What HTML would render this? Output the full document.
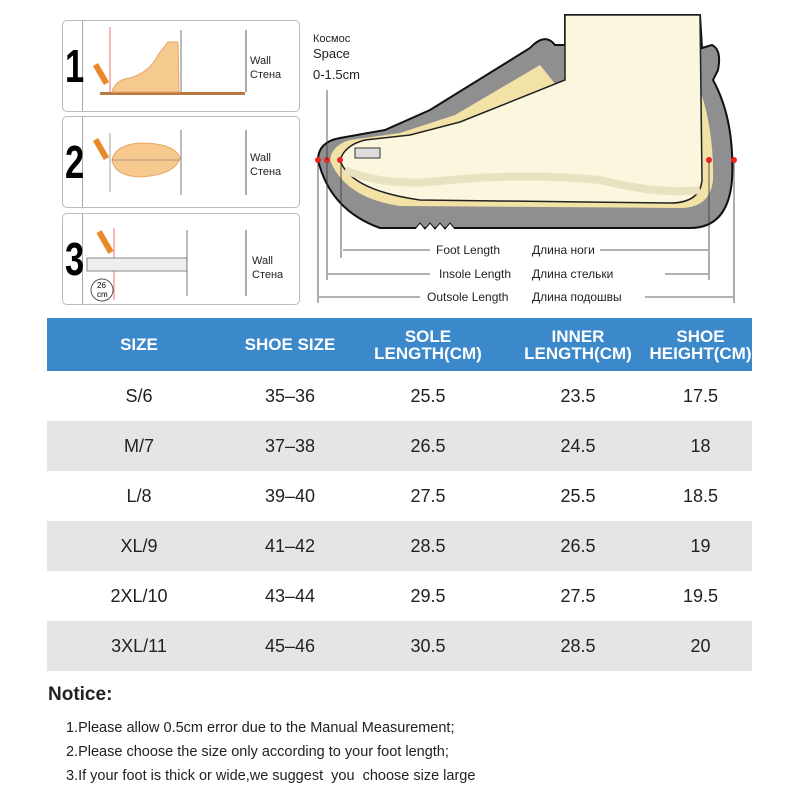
<!DOCTYPE html>
<html><head><style>
body{margin:0;width:800px;height:800px;background:#fff;font-family:"Liberation Sans",sans-serif;position:relative;overflow:hidden}
.box{position:absolute;left:62px;width:236px;height:90px;border:1px solid #bbb;border-radius:5px;background:#fff}
.box .num{position:absolute;left:0;top:0;width:19px;height:90px;border-right:1px solid #aaa}
.box .num span{position:absolute;left:2px;top:22px;font:bold 46px "Liberation Sans",sans-serif;line-height:46px;transform:scaleX(0.75);transform-origin:0 0}
table{position:absolute;left:47px;top:318px;width:705px;border-collapse:collapse;table-layout:fixed}
th{background:#3b88ca;color:#fff;font-weight:bold;height:53px;padding:0;font-size:17px;line-height:17px}
td{height:50px;padding:0;text-align:center;font-size:18px;color:#222}
tr.g td{background:#e5e5e5}
.n{position:absolute;left:49px;font-size:14.5px;color:#222}
</style></head><body>
<div class="box" style="top:20px"><div class="num"><span>1</span></div></div>
<div class="box" style="top:116px"><div class="num"><span>2</span></div></div>
<div class="box" style="top:213px"><div class="num"><span>3</span></div></div>
<svg style="position:absolute;left:0;top:0" width="800" height="320">
<line x1="110" y1="27" x2="110" y2="95" stroke="#d33" stroke-width="0.7"/>
<rect x="100" y="92" width="145" height="3" fill="#b87a40"/>
<path d="M112,92 Q115,80 130,78 Q150,72 158,55 L168,42 L178,42 L179,92 Z" fill="#f6c98f" stroke="#e7a765"/>
<line x1="181" y1="30" x2="181" y2="92" stroke="#777"/>
<rect x="98" y="63" width="6" height="22" fill="#e88a2a" transform="rotate(-30 101 74)"/>
<line x1="110" y1="133" x2="110" y2="192" stroke="#777" stroke-width="0.7"/>
<line x1="181" y1="130" x2="181" y2="195" stroke="#777"/>
<path d="M112,160 Q115,145 140,143 Q175,143 180,158 Q175,175 140,177 Q115,176 112,160Z" fill="#f6c98f" stroke="#e7a765"/>
<line x1="112" y1="160" x2="180" y2="160" stroke="#666" stroke-width="0.6"/>
<rect x="98" y="138" width="6" height="22" fill="#e88a2a" transform="rotate(-30 101 149)"/>
<line x1="114" y1="228" x2="114" y2="300" stroke="#d33" stroke-width="0.7"/>
<rect x="87" y="258" width="100" height="13" fill="#eee" stroke="#888"/>
<line x1="187" y1="230" x2="187" y2="296" stroke="#777"/>
<circle cx="102" cy="290" r="11" fill="#fff" stroke="#555"/>
<text x="97" y="288" font-size="8">26</text><text x="97" y="297" font-size="8">cm</text>
<rect x="102" y="230" width="6" height="24" fill="#e88a2a" transform="rotate(-30 105 242)"/>
<!-- shoe -->
<path d="M318,160 Q318,142 340,138 L385,130 L430,110 L530,48 Q545,32 555,45 L565,45 L565,15 L700,15 L702,48 L712,45 Q722,50 718,70 L713,80 Q735,120 732,180 Q728,228 690,228 L380,228 Q330,210 318,160Z" fill="#8f8f8f" stroke="#111" stroke-width="2"/>
<path d="M330,160 Q332,145 350,140 L400,133 L455,115 L540,65 L560,90 L565,90 L700,90 Q714,130 713,180 Q710,208 680,208 L400,206 Q345,198 330,160Z" fill="#f3e2a6"/>
<path d="M340,160 Q345,145 365,140 L410,135 L460,122 L565,80 L565,15 L700,15 L702,180 Q700,203 670,203 L420,200 Q350,190 340,160Z" fill="#fbf7de" stroke="#222" stroke-width="1.5"/>
<path d="M345,170 Q380,185 430,182 Q520,172 600,180 Q660,195 700,190" stroke="#e9e2c0" stroke-width="8" fill="none"/>
<rect x="355" y="148" width="25" height="10" fill="#ddd" stroke="#333"/>
<path d="M415,229 l5,-6 l5,6 l5,-6 l5,6 l5,-6 l5,6 l5,-6 l5,6" stroke="#111" fill="#fff" stroke-width="1"/>
<g fill="#e22"><circle cx="318" cy="160" r="3"/><circle cx="327" cy="160" r="3"/><circle cx="340" cy="160" r="3"/><circle cx="709" cy="160" r="3"/><circle cx="734" cy="160" r="3"/></g>
<g stroke="#333" stroke-width="0.8">
<line x1="318" y1="162" x2="318" y2="303"/><line x1="327" y1="162" x2="327" y2="280"/><line x1="341" y1="162" x2="341" y2="258"/>
<line x1="709" y1="162" x2="709" y2="280"/><line x1="734" y1="162" x2="734" y2="303"/>
<line x1="246" y1="30" x2="246" y2="92"/>
<line x1="246" y1="130" x2="246" y2="195"/>
<line x1="246" y1="230" x2="246" y2="296"/>
<line x1="343" y1="250" x2="430" y2="250"/><line x1="600" y1="250" x2="708" y2="250"/>
<line x1="328" y1="274" x2="430" y2="274"/><line x1="665" y1="274" x2="708" y2="274"/>
<line x1="319" y1="297" x2="420" y2="297"/><line x1="645" y1="297" x2="733" y2="297"/>
<line x1="327" y1="90" x2="327" y2="160"/>
</g>
<g font-size="12" fill="#222">
<text x="436" y="254">Foot Length</text><text x="532" y="254">Длина ноги</text>
<text x="439" y="278">Insole Length</text><text x="532" y="278">Длина стельки</text>
<text x="427" y="301">Outsole Length</text><text x="532" y="301">Длина подошвы</text>
<text x="313" y="42" font-size="11">Космос</text>
<text x="313" y="58" font-size="13">Space</text>
<text x="313" y="79" font-size="13">0-1.5cm</text>
</g>
<g font-size="11" fill="#222">
<text x="250" y="64">Wall</text><text x="250" y="78">Стена</text>
<text x="250" y="161">Wall</text><text x="250" y="175">Стена</text>
<text x="252" y="264">Wall</text><text x="252" y="278">Стена</text>
</g>
</svg>
<table>
<colgroup><col style="width:184px"><col style="width:118px"><col style="width:158px"><col style="width:142px"><col style="width:103px"></colgroup>
<tr><th>SIZE</th><th>SHOE SIZE</th><th>SOLE<br>LENGTH(CM)</th><th>INNER<br>LENGTH(CM)</th><th>SHOE<br>HEIGHT(CM)</th></tr>
<tr><td>S/6</td><td>35–36</td><td>25.5</td><td>23.5</td><td>17.5</td></tr>
<tr class="g"><td>M/7</td><td>37–38</td><td>26.5</td><td>24.5</td><td>18</td></tr>
<tr><td>L/8</td><td>39–40</td><td>27.5</td><td>25.5</td><td>18.5</td></tr>
<tr class="g"><td>XL/9</td><td>41–42</td><td>28.5</td><td>26.5</td><td>19</td></tr>
<tr><td>2XL/10</td><td>43–44</td><td>29.5</td><td>27.5</td><td>19.5</td></tr>
<tr class="g"><td>3XL/11</td><td>45–46</td><td>30.5</td><td>28.5</td><td>20</td></tr>
</table>
<div class="n" style="top:684px;font-size:19px;font-weight:bold;left:48px">Notice:</div>
<div class="n" style="top:720px;left:66px">1.Please allow 0.5cm error due to the Manual Measurement;</div>
<div class="n" style="top:744px;left:66px">2.Please choose the size only according to your foot length;</div>
<div class="n" style="top:768px;left:66px">3.If your foot is thick or wide,we suggest &nbsp;you &nbsp;choose size large</div>
</body></html>
